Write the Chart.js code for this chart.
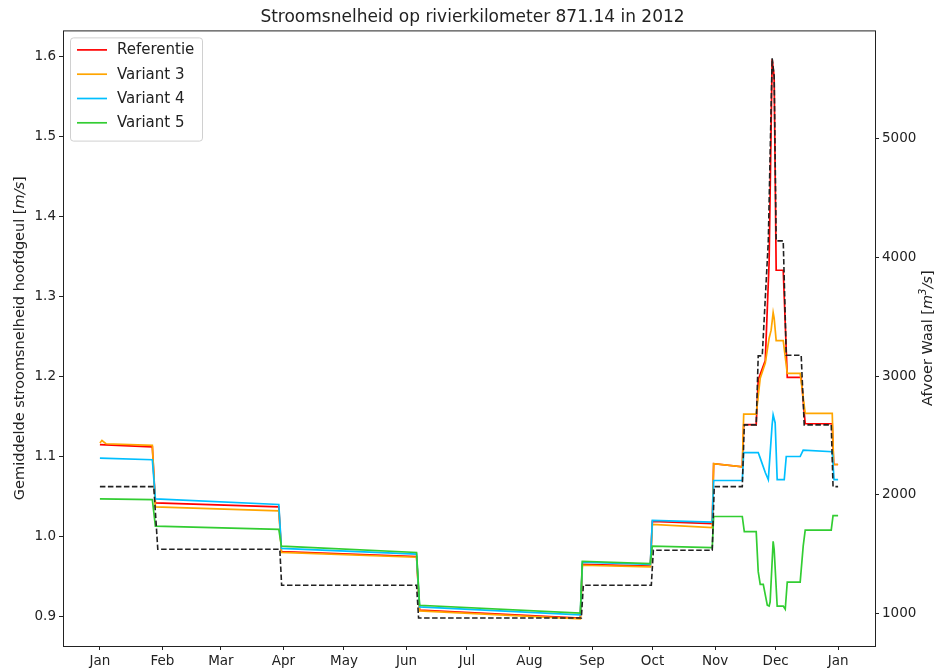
<!DOCTYPE html>
<html>
<head>
<meta charset="utf-8">
<title>Stroomsnelheid 871.14</title>
<script src="https://cdn.jsdelivr.net/npm/chart.js@4.4.0/dist/chart.umd.min.js"></script>
<style>
  body { margin: 0; background: #fff; }
  canvas { display: block; }
</style>
</head>
<body>
<canvas id="chart" width="945" height="670"></canvas>
<script>
// x values are days since 1 Jan 2012
const monthDays = [0, 31, 60, 91, 121, 152, 182, 213, 244, 274, 305, 335, 366];
const monthNames = ['Jan', 'Feb', 'Mar', 'Apr', 'May', 'Jun', 'Jul', 'Aug', 'Sep', 'Oct', 'Nov', 'Dec', 'Jan'];
const speedTicks = [0.9, 1.0, 1.1, 1.2, 1.3, 1.4, 1.5, 1.6];
const flowTicks = [1000, 2000, 3000, 4000, 5000];

// Referentie
const refDays = [0, 26, 27.5, 88.7, 90, 157, 158.5, 238.2, 239.2, 272.9, 273.9, 303.6, 304.3, 318.5, 319.2,
  325.4, 326.4, 329.9, 331.8, 333.3, 334.3, 335.3, 338.8, 340.8, 347.7, 349.7, 363.1, 363.8, 366];
const refValues = [1.115, 1.112, 1.042, 1.037, 0.981, 0.975, 0.908, 0.898, 0.965, 0.963, 1.019, 1.016, 1.091, 1.087, 1.140,
  1.140, 1.196, 1.220, 1.343, 1.597, 1.575, 1.333, 1.333, 1.199, 1.199, 1.141, 1.141, 1.090, 1.090];

// Variant 3
const v3Days = [0, 1, 3, 26, 27.5, 88.7, 90, 157, 158.5, 238.2, 239.2, 272.9, 273.9, 303.6, 304.3, 318.5,
  319.2, 325.4, 327.4, 329.9, 331.8, 332.8, 333.8, 334.3, 335.3, 338.8, 340.8, 347.2, 349.7, 363.1, 363.8, 366];
const v3Values = [1.117, 1.120, 1.116, 1.114, 1.037, 1.032, 0.980, 0.974, 0.907, 0.897, 0.964, 0.962, 1.015, 1.011, 1.091, 1.087,
  1.153, 1.153, 1.198, 1.217, 1.248, 1.258, 1.280, 1.273, 1.245, 1.245, 1.204, 1.204, 1.154, 1.154, 1.090, 1.090];

// Variant 4
const v4Days = [0, 26, 27.5, 88.7, 90, 157, 158.5, 238.2, 239.2, 272.9, 273.9, 303.6, 304.3, 318.5, 319.2,
  326.4, 327.4, 329.9, 331.4, 333.3, 333.8, 334.8, 335.8, 339.3, 340.3, 347.2, 348.7, 363.1, 364, 366];
const v4Values = [1.098, 1.096, 1.047, 1.040, 0.985, 0.978, 0.912, 0.902, 0.968, 0.965, 1.020, 1.018, 1.070, 1.070, 1.105,
  1.105, 1.098, 1.080, 1.071, 1.140, 1.152, 1.142, 1.071, 1.071, 1.100, 1.100, 1.108, 1.106, 1.071, 1.071];

// Variant 5
const v5Days = [0, 26, 27.5, 88.7, 90, 157, 158.5, 238.2, 239.2, 272.9, 273.9, 303.6, 304.3, 318.5, 319.5,
  325.4, 326.4, 327.4, 328.9, 330.9, 331.8, 332.3, 333.8, 334.3, 335.8, 338.8, 339.8, 340.8, 347.2, 348.7,
  349.7, 362.6, 363.5, 366];
const v5Values = [1.047, 1.046, 1.013, 1.009, 0.988, 0.980, 0.914, 0.904, 0.969, 0.966, 0.988, 0.986, 1.025, 1.025, 1.006,
  1.006, 0.956, 0.940, 0.940, 0.914, 0.913, 0.918, 0.994, 0.984, 0.913, 0.913, 0.909, 0.943, 0.943, 0.988,
  1.008, 1.008, 1.026, 1.026];

// Afvoer Waal (m3/s)
const flowDays = [0, 26.7, 28.7, 89.2, 90.1, 157, 158, 238.7, 239.7, 273.4, 274.4, 303.6, 304.6, 318.5, 319.5,
  325.4, 326.4, 328.4, 331.4, 333.3, 334.3, 335.3, 338.8, 340.3, 347.7, 349.2, 362.6, 363.5, 366];
const flowValues = [2067, 2067, 1538, 1538, 1235, 1235, 958, 958, 1235, 1235, 1530, 1530, 2067, 2067, 2588,
  2588, 3170, 3170, 4140, 5680, 5530, 4140, 4140, 3175, 3175, 2588, 2588, 2067, 2067];

const FONT = 'DejaVu Sans';

function toPoints(days, values) {
  return days.map((d, i) => ({ x: d, y: values[i] }));
}

function line(label, days, values, color, order) {
  return {
    label: label,
    data: toPoints(days, values),
    borderColor: color,
    backgroundColor: color,
    borderWidth: 1.7,
    pointRadius: 0,
    tension: 0,
    yAxisID: 'y',
    order: order
  };
}

// matplotlib-style box around the plot area
const frame = {
  id: 'frame',
  afterDraw(chart) {
    const { ctx, chartArea: a } = chart;
    ctx.save();
    ctx.strokeStyle = '#222';
    ctx.lineWidth = 1;
    ctx.strokeRect(a.left + 0.5, a.top + 0.5, a.right - a.left, a.bottom - a.top);
    ctx.restore();
  }
};

// axis titles with italic units
function drawRuns(ctx, runs, cx, cy) {
  let total = 0;
  runs.forEach(r => { ctx.font = r.font; r.w = ctx.measureText(r.text).width; total += r.w; });
  ctx.save();
  ctx.translate(cx, cy);
  ctx.rotate(-Math.PI / 2);
  ctx.fillStyle = '#222';
  ctx.textBaseline = 'middle';
  let x = -total / 2;
  runs.forEach(r => {
    ctx.font = r.font;
    ctx.fillText(r.text, x, r.dy || 0);
    x += r.w;
  });
  ctx.restore();
}

const axisTitles = {
  id: 'axisTitles',
  afterDraw(chart) {
    const { ctx, chartArea: a } = chart;
    const mid = (a.top + a.bottom) / 2;
    const n = '14.5px "' + FONT + '"';
    const it = 'italic 14.5px "' + FONT + '"';
    drawRuns(ctx, [
      { text: 'Gemiddelde stroomsnelheid hoofdgeul [', font: n },
      { text: 'm/s', font: it },
      { text: ']', font: n }
    ], 20, mid);
    drawRuns(ctx, [
      { text: 'Afvoer Waal [', font: n },
      { text: 'm', font: it },
      { text: '3', font: 'italic 10px "' + FONT + '"', dy: -5 },
      { text: '/s', font: it },
      { text: ']', font: n }
    ], 928, mid);
  }
};

// legend box in the upper left corner
const cornerLegend = {
  id: 'cornerLegend',
  afterDatasetsDraw(chart) {
    const { ctx, chartArea: a } = chart;
    const items = chart.data.datasets.filter(ds => ds.label);
    const x0 = a.left + 7, y0 = a.top + 7, w = 132, rowH = 24.3;
    const h = items.length * rowH + 6;
    ctx.save();
    ctx.beginPath();
    ctx.roundRect(x0 + 0.5, y0 + 0.5, w, h, 3);
    ctx.fillStyle = 'rgba(255,255,255,0.8)';
    ctx.fill();
    ctx.strokeStyle = '#d0d0d0';
    ctx.lineWidth = 1;
    ctx.stroke();
    ctx.font = '15px "' + FONT + '"';
    ctx.textBaseline = 'middle';
    items.forEach((ds, i) => {
      const y = y0 + 12.5 + i * rowH;
      ctx.strokeStyle = ds.borderColor;
      ctx.lineWidth = 1.7;
      ctx.beginPath();
      ctx.moveTo(x0 + 7, y);
      ctx.lineTo(x0 + 37, y);
      ctx.stroke();
      ctx.fillStyle = '#222';
      ctx.fillText(ds.label, x0 + 47, y + 0.5);
    });
    ctx.restore();
  }
};

const tickFont = { family: FONT, size: 13.5 };
const tickGrid = { display: true, drawOnChartArea: false, drawTicks: true, tickLength: 4, color: '#222', lineWidth: 1 };

new Chart(document.getElementById('chart'), {
  type: 'line',
  data: {
    datasets: [
      line('Referentie', refDays, refValues, '#ff0000', 4),
      line('Variant 3', v3Days, v3Values, '#ffa500', 3),
      line('Variant 4', v4Days, v4Values, '#00bfff', 2),
      line('Variant 5', v5Days, v5Values, '#32cd32', 1),
      {
        label: '',
        data: toPoints(flowDays, flowValues),
        borderColor: '#222',
        borderWidth: 1.6,
        borderDash: [5.5, 2.5],
        pointRadius: 0,
        tension: 0,
        yAxisID: 'y1',
        order: 0
      }
    ]
  },
  options: {
    responsive: false,
    animation: false,
    layout: { padding: 0 },
    plugins: {
      legend: { display: false },
      tooltip: { enabled: false },
      title: {
        display: true,
        text: 'Stroomsnelheid op rivierkilometer 871.14 in 2012',
        color: '#222',
        font: { family: FONT, size: 17, weight: 'normal' },
        padding: { top: 7, bottom: 3 }
      }
    },
    scales: {
      x: {
        type: 'linear',
        min: -18.3,
        max: 384.3,
        afterBuildTicks: s => { s.ticks = monthDays.map(v => ({ value: v })); },
        afterFit: s => { s.height = 24; },
        ticks: {
          autoSkip: false,
          maxRotation: 0,
          color: '#222',
          font: tickFont,
          padding: 3,
          callback: (v, i) => monthNames[i]
        },
        grid: tickGrid,
        border: { display: false }
      },
      y: {
        position: 'left',
        min: 0.863,
        max: 1.633,
        afterBuildTicks: s => { s.ticks = speedTicks.map(v => ({ value: v })); },
        afterFit: s => { s.width = 63; },
        ticks: { color: '#222', font: tickFont, padding: 3, callback: v => v.toFixed(1) },
        grid: tickGrid,
        border: { display: false }
      },
      y1: {
        position: 'right',
        min: 722,
        max: 5916,
        afterBuildTicks: s => { s.ticks = flowTicks.map(v => ({ value: v })); },
        afterFit: s => { s.width = 70; },
        ticks: { color: '#222', font: tickFont, padding: 3, callback: v => String(v) },
        grid: tickGrid,
        border: { display: false }
      }
    }
  },
  plugins: [frame, axisTitles, cornerLegend]
});
</script>
</body>
</html>
